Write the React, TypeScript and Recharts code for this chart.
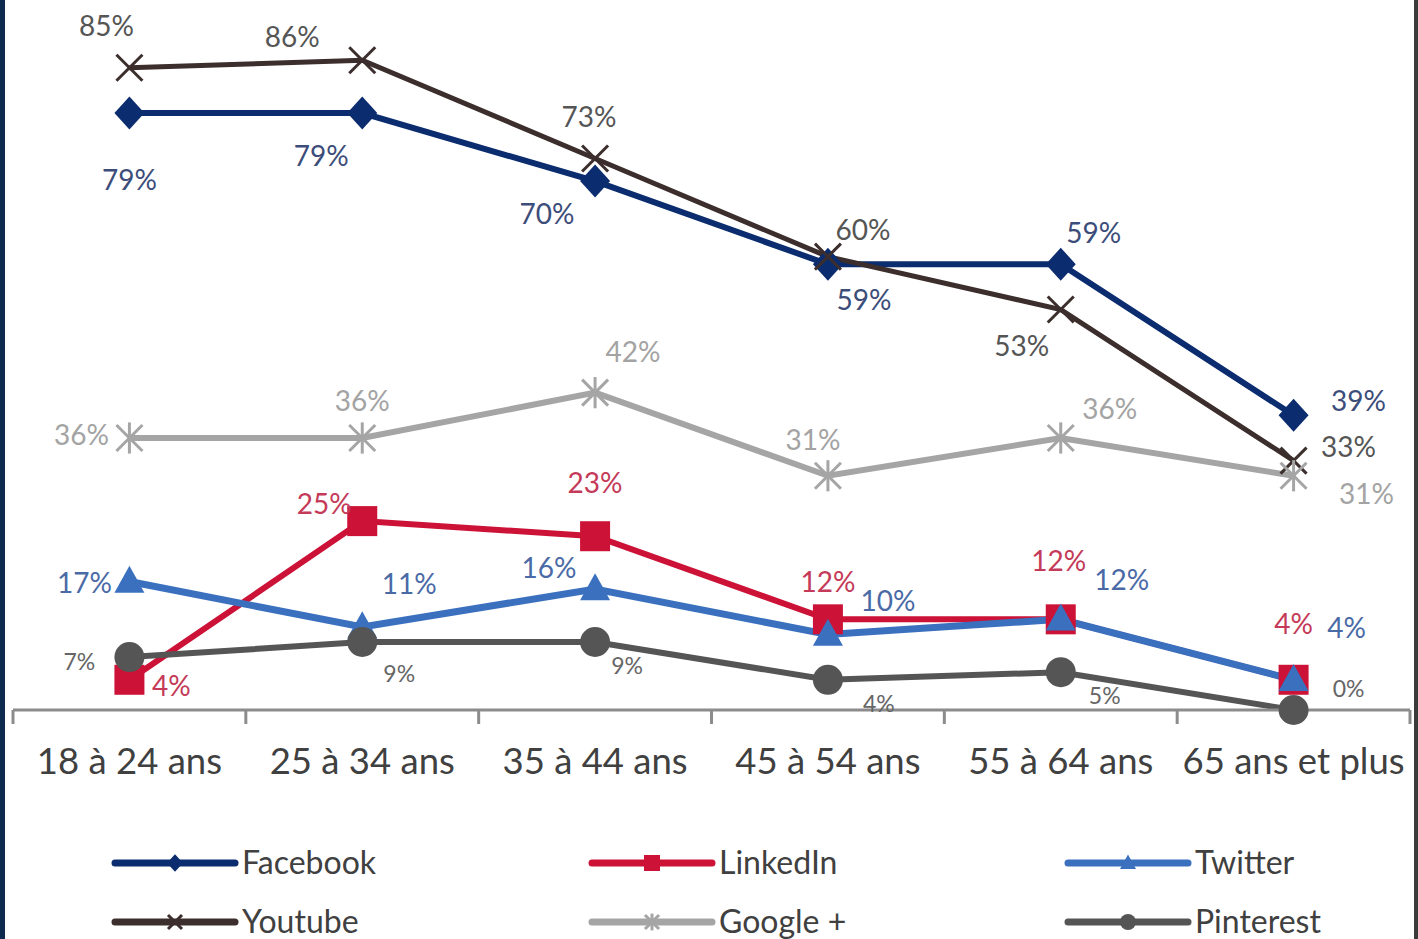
import { LineChart, Line, XAxis, YAxis } from 'recharts'

const categories = ['18 à 24 ans', '25 à 34 ans', '35 à 44 ans', '45 à 54 ans', '55 à 64 ans', '65 ans et plus']
const facebook = [79, 79, 70, 59, 59, 39]
const linkedin = [4, 25, 23, 12, 12, 4]
const twitter = [17, 11, 16, 10, 12, 4]
const youtube = [85, 86, 73, 60, 53, 33]
const googlePlus = [36, 36, 42, 31, 36, 31]
const pinterest = [7, 9, 9, 4, 5, 0]

// label offsets (dx, dy) from each point
const facebookLabelPos = [[0, 66], [-41, 42], [-48, 32], [36, 35], [33, -32], [65, -15]]
const linkedinLabelPos = [[42, 5], [-38, -18], [0, -54], [0, -38], [-2, -59], [0, -57]]
const twitterLabelPos = [[-45, 0], [47, -44], [-46, -22], [60, -34], [61, -40], [53, -53]]
const youtubeLabelPos = [[-23, -43], [-70, -24], [-6, -42], [35, -28], [-39, 35], [55, -15]]
const googleLabelPos = [[-48, -4], [0, -38], [38, -42], [-15, -37], [49, -30], [73, 17]]
const pinterestLabelPos = [[-50, 4], [37, 31], [32, 23], [51, 23], [44, 23], [55, -22]]

const WIDTH = 1418
const HEIGHT = 939
const LEFT = 13
const RIGHT = 8
const TOP = 30
const AXIS_Y = 710
const BAND = (WIDTH - LEFT - RIGHT) / categories.length
const FONT = 'Lato, "Open Sans", sans-serif'

type MarkerKind = 'diamond' | 'square' | 'triangle' | 'cross' | 'star' | 'circle'

const series = [
  { key: 'facebook', name: 'Facebook', values: facebook, labels: facebookLabelPos, color: '#0b2c6e', labelColor: '#3c4d7a', marker: 'diamond' as MarkerKind, width: 6, fontSize: 28 },
  { key: 'linkedin', name: 'LinkedIn', values: linkedin, labels: linkedinLabelPos, color: '#cc1236', labelColor: '#c43a58', marker: 'square' as MarkerKind, width: 6, fontSize: 28 },
  { key: 'twitter', name: 'Twitter', values: twitter, labels: twitterLabelPos, color: '#3b70bf', labelColor: '#4a6aa6', marker: 'triangle' as MarkerKind, width: 7, fontSize: 28 },
  { key: 'youtube', name: 'Youtube', values: youtube, labels: youtubeLabelPos, color: '#3b2e2c', labelColor: '#555555', marker: 'cross' as MarkerKind, width: 5, fontSize: 28 },
  { key: 'google', name: 'Google +', values: googlePlus, labels: googleLabelPos, color: '#a5a5a5', labelColor: '#a3a3a3', marker: 'star' as MarkerKind, width: 6, fontSize: 28 },
  { key: 'pinterest', name: 'Pinterest', values: pinterest, labels: pinterestLabelPos, color: '#555555', labelColor: '#666666', marker: 'circle' as MarkerKind, width: 6, fontSize: 23 },
]

const data = categories.map((category, i) => {
  const row: Record<string, string | number> = { category }
  series.forEach((s) => {
    row[s.key] = s.values[i]
  })
  return row
})

function Marker({ kind, cx, cy, color, r }: { kind: MarkerKind; cx: number; cy: number; color: string; r: number }) {
  switch (kind) {
    case 'diamond':
      return <polygon points={`${cx},${cy - r * 1.1} ${cx + r},${cy} ${cx},${cy + r * 1.1} ${cx - r},${cy}`} fill={color} />
    case 'square':
      return <rect x={cx - r} y={cy - r} width={r * 2} height={r * 2} fill={color} />
    case 'triangle':
      return <polygon points={`${cx},${cy - r * 1.05} ${cx + r},${cy + r * 0.75} ${cx - r},${cy + r * 0.75}`} fill={color} />
    case 'circle':
      return <circle cx={cx} cy={cy} r={r} fill={color} />
    case 'cross':
      return (
        <g stroke={color} strokeWidth={3}>
          <line x1={cx - r} y1={cy - r} x2={cx + r} y2={cy + r} />
          <line x1={cx - r} y1={cy + r} x2={cx + r} y2={cy - r} />
        </g>
      )
    case 'star':
      return (
        <g stroke={color} strokeWidth={3}>
          <line x1={cx - r} y1={cy - r} x2={cx + r} y2={cy + r} />
          <line x1={cx - r} y1={cy + r} x2={cx + r} y2={cy - r} />
          <line x1={cx} y1={cy - r * 1.2} x2={cx} y2={cy + r * 1.2} />
        </g>
      )
  }
  return null
}

function AgeTick(props: any) {
  const { x, payload, index } = props
  const half = BAND / 2
  const last = index === categories.length - 1
  return (
    <g>
      <line x1={x - half} y1={AXIS_Y} x2={x - half} y2={AXIS_Y + 14} stroke="#8c8c8c" strokeWidth={3} />
      {last && <line x1={x + half} y1={AXIS_Y} x2={x + half} y2={AXIS_Y + 14} stroke="#8c8c8c" strokeWidth={3} />}
      <text x={x} y={AXIS_Y + 64} textAnchor="middle" fill="#404040" fontSize={36.5} fontFamily={FONT}>
        {payload.value}
      </text>
    </g>
  )
}

const legendCols = [115, 592, 1068]
const legendRows = [863, 922]

function LegendOverlay() {
  return (
    <svg width={WIDTH} height={HEIGHT} style={{ position: 'absolute', left: 0, top: 0, pointerEvents: 'none' }}>
      {series.map((s, i) => {
        const x = legendCols[i % 3]
        const y = legendRows[Math.floor(i / 3)]
        return (
          <g key={s.key}>
            <line x1={x} y1={y} x2={x + 120} y2={y} stroke={s.color} strokeWidth={7} strokeLinecap="round" />
            <Marker kind={s.marker} cx={x + 60} cy={y} color={s.color} r={s.marker === 'cross' || s.marker === 'star' ? 7 : 8} />
            <text x={x + 127} y={y + 11} fill="#404040" fontSize={32} fontFamily={FONT}>
              {s.name}
            </text>
          </g>
        )
      })}
      <rect x={0} y={0} width={5} height={HEIGHT} fill="#0f2a4f" />
      <rect x={WIDTH - 4} y={0} width={4} height={HEIGHT} fill="#3a3a3a" />
    </svg>
  )
}

export default function App() {
  return (
    <div style={{ position: 'fixed', left: 0, top: 0, width: WIDTH, height: HEIGHT, background: '#ffffff', overflow: 'hidden' }}>
      <LineChart width={WIDTH} height={HEIGHT} data={data} margin={{ top: TOP, right: RIGHT, left: LEFT, bottom: HEIGHT - AXIS_Y - 60 }}>
        <XAxis
          dataKey="category"
          scale="band"
          height={60}
          interval={0}
          axisLine={{ stroke: '#8c8c8c', strokeWidth: 3 }}
          tickLine={false}
          tick={<AgeTick />}
        />
        <YAxis hide domain={[0, 90]} />
        {series.map((s) => (
          <Line
            key={s.key}
            dataKey={s.key}
            name={s.name}
            stroke={s.color}
            strokeWidth={s.width}
            isAnimationActive={false}
            activeDot={false}
            dot={(p: any) => {
              const [dx, dy] = s.labels[p.index]
              const big = s.marker === 'cross' || s.marker === 'star' ? 13 : 15
              return (
                <g key={`${s.key}-${p.index}`}>
                  <Marker kind={s.marker} cx={p.cx} cy={p.cy} color={s.color} r={big} />
                  <text
                    x={p.cx + dx}
                    y={p.cy + dy}
                    textAnchor="middle"
                    dominantBaseline="central"
                    fill={s.labelColor}
                    fontSize={s.fontSize}
                    fontFamily={FONT}
                  >
                    {`${s.values[p.index]}%`}
                  </text>
                </g>
              )
            }}
          />
        ))}
      </LineChart>
      <LegendOverlay />
    </div>
  )
}
